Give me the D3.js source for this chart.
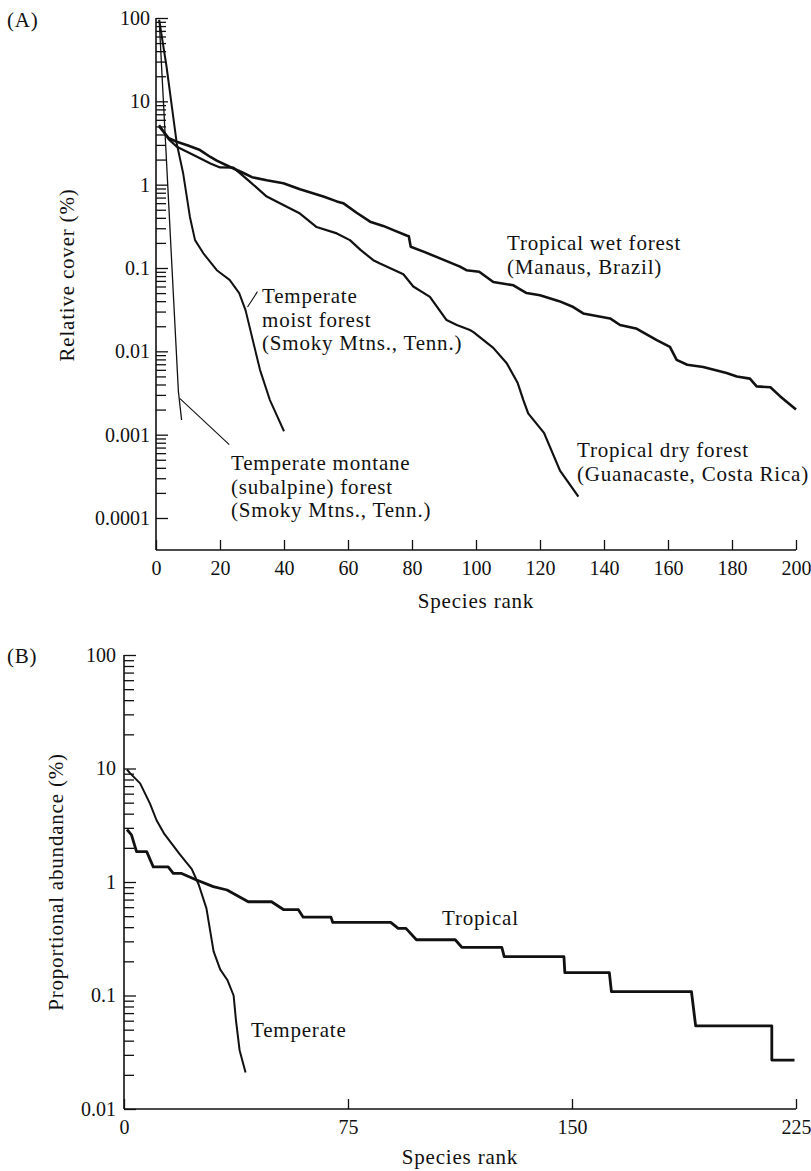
<!DOCTYPE html>
<html>
<head>
<meta charset="utf-8">
<script src="https://cdn.jsdelivr.net/npm/d3@7"></script>
<style>
  body { margin: 0; background: #fff; }
  svg text { font-family: "Liberation Serif", "Times New Roman", serif; fill: #111; }
</style>
</head>
<body>
<div id="graph"></div>
<script>
// ---- Panel A: relative cover vs species rank ----
var wetRank  = [1, 4, 6.5, 10, 13.75, 17, 19, 23, 27, 30, 34.6, 39.8, 45, 52.3, 56.5, 58.5, 62.7, 66.9, 71, 74.2, 78.3, 79, 79.6, 84, 88, 95, 97, 101, 105.4, 111.7, 115.8, 120, 126, 130.4, 133.5, 141.9, 145, 150, 156.5, 160.6, 162.7, 166, 171, 178.3, 181.5, 185.6, 187.7, 192, 195, 200];
var wetCover = [5.0, 3.6, 3.27, 2.95, 2.6, 2.15, 1.94, 1.64, 1.4, 1.23, 1.13, 1.04, 0.88, 0.72, 0.63, 0.6, 0.46, 0.36, 0.32, 0.285, 0.245, 0.24, 0.18, 0.155, 0.134, 0.104, 0.094, 0.09, 0.068, 0.062, 0.05, 0.047, 0.04, 0.034, 0.0285, 0.0248, 0.0207, 0.0188, 0.0136, 0.0113, 0.0079, 0.0069, 0.0065, 0.0055, 0.005, 0.0047, 0.0038, 0.0037, 0.0029, 0.002];

var dryRank  = [1, 4, 6.5, 10, 13.75, 17, 20, 24.2, 29.4, 34.6, 39.8, 45, 50.2, 56.5, 60.6, 64, 67.9, 70, 77.3, 80.4, 85.6, 90.8, 94, 98.1, 99.2, 105.4, 109.6, 113, 114.8, 116.3, 121.25, 126.25, 132];
var dryCover = [5.2, 3.5, 2.85, 2.45, 2.07, 1.8, 1.61, 1.6, 1.08, 0.72, 0.57, 0.45, 0.31, 0.26, 0.216, 0.164, 0.124, 0.113, 0.084, 0.06, 0.045, 0.0237, 0.0207, 0.018, 0.017, 0.011, 0.0072, 0.0042, 0.0026, 0.0018, 0.00105, 0.00037, 0.00018];

var moistRank  = [1, 3.3, 6.5, 8.5, 10.6, 12.2, 14.8, 19, 23, 26, 28, 30.5, 32.5, 35.6, 40];
var moistCover = [95, 26, 3.1, 1.36, 0.41, 0.216, 0.15, 0.094, 0.072, 0.05, 0.031, 0.0124, 0.006, 0.0026, 0.0011];

var montaneRank  = [1, 2, 3, 4, 5, 6, 7, 8];
var montaneCover = [95, 17, 3.1, 0.56, 0.1, 0.018, 0.0033, 0.0015];

var xTicksA = [0, 20, 40, 60, 80, 100, 120, 140, 160, 180, 200];
var yMajorA = [1e-4, 1e-3, 1e-2, 1e-1, 1, 10, 100];
var yLabelsA = ["0.0001", "0.001", "0.01", "0.1", "1", "10", "100"];

// ---- Panel B: proportional abundance vs species rank ----
var tropRank  = [1, 2.5, 4.2, 7.6, 9.8, 14.8, 16.5, 19.3, 24.3, 29.9, 34.5, 41.6, 49.4, 53.5, 58.4, 60, 69.3, 69.9, 89.3, 91.8, 94.4, 97.9, 110.9, 113.1, 126.5, 127.3, 147.3, 147.6, 162.5, 163.2, 190, 191.4, 216.9, 216.9, 224.5];
var tropAbund = [2.9, 2.6, 1.85, 1.85, 1.36, 1.36, 1.19, 1.19, 1.04, 0.91, 0.85, 0.67, 0.67, 0.57, 0.57, 0.49, 0.49, 0.44, 0.44, 0.39, 0.39, 0.31, 0.31, 0.266, 0.266, 0.22, 0.22, 0.159, 0.159, 0.108, 0.108, 0.054, 0.054, 0.027, 0.027];

var tempRank  = [1, 2, 5.4, 8.7, 10.9, 13.5, 18.7, 22.7, 25, 27.6, 30, 32.2, 34.6, 36.7, 37.5, 38.7, 40.7];
var tempAbund = [9.8, 9.1, 7.4, 4.9, 3.5, 2.65, 1.75, 1.3, 0.95, 0.586, 0.245, 0.17, 0.137, 0.1, 0.06, 0.033, 0.021];

var xTicksB = [0, 75, 150, 225];
var yMajorB = [0.01, 0.1, 1, 10, 100];
var yLabelsB = ["0.01", "0.1", "1", "10", "100"];

var W = 811, H = 1171;
var svg = d3.select("#graph").append("svg")
  .attr("width", W).attr("height", H);

function minorTicks(majors) {
  var out = [];
  for (var i = 0; i < majors.length - 1; i++) {
    for (var k = 2; k < 10; k++) out.push(majors[i] * k);
  }
  return out;
}

// draws a log y axis with inward ticks plus a linear x axis
function drawAxes(x, y, xTicks, yMajor, yLabels, labelPad) {
  var x0 = x.range()[0], x1 = x.range()[1];
  var yBottom = y.range()[0], yTop = y.range()[1];

  var gMinor = svg.append("g").attr("transform", "translate(" + x0 + ",0)")
    .call(d3.axisLeft(y).tickValues(minorTicks(yMajor)).tickSize(-10).tickSizeOuter(0).tickFormat(""));
  gMinor.select(".domain").remove();

  var gMajor = svg.append("g").attr("transform", "translate(" + x0 + ",0)")
    .call(d3.axisLeft(y).tickValues(yMajor).tickSize(-12).tickSizeOuter(0)
      .tickPadding(labelPad).tickFormat(function (d, i) { return yLabels[i]; }));
  gMajor.select(".domain").remove();

  var gx = svg.append("g").attr("transform", "translate(0," + yBottom + ")")
    .call(d3.axisBottom(x).tickValues(xTicks).tickSize(-10).tickSizeOuter(0).tickPadding(11));
  gx.select(".domain").remove();

  svg.selectAll(".tick line").attr("stroke", "#111").attr("stroke-width", 1.3);
  svg.selectAll(".tick text").attr("font-size", 20).attr("fill", "#111")
     .attr("font-family", "Liberation Serif, serif");

  // axis lines
  svg.append("line").attr("x1", x0).attr("x2", x0).attr("y1", yTop).attr("y2", yBottom)
    .attr("stroke", "#111").attr("stroke-width", 1.6);
  svg.append("line").attr("x1", x0).attr("x2", x1).attr("y1", yBottom).attr("y2", yBottom)
    .attr("stroke", "#111").attr("stroke-width", 1.6);
}

function drawSeries(x, y, ranks, vals, width) {
  var pts = ranks.map(function (r, i) { return [r, vals[i]]; });
  svg.append("path")
    .datum(pts)
    .attr("fill", "none")
    .attr("stroke", "#111")
    .attr("stroke-width", width)
    .attr("stroke-linejoin", "round")
    .attr("d", d3.line().x(function (d) { return x(d[0]); }).y(function (d) { return y(d[1]); }));
}

function label(x, y, lines, size) {
  var t = svg.append("text").attr("x", x).attr("y", y)
    .attr("font-size", size || 21).attr("letter-spacing", 0.8);
  lines.forEach(function (s, i) {
    t.append("tspan").attr("x", x).attr("dy", i === 0 ? 0 : 23.5).text(s);
  });
}

// ---------- Panel A ----------
var xA = d3.scaleLinear().domain([0, 200]).range([156, 796]);
var yA = d3.scaleLog().domain([4.13e-5, 100]).range([550, 18]);

drawAxes(xA, yA, xTicksA, yMajorA, yLabelsA, 6);

drawSeries(xA, yA, wetRank, wetCover, 2.6);
drawSeries(xA, yA, dryRank, dryCover, 2.2);
drawSeries(xA, yA, moistRank, moistCover, 2.0);
drawSeries(xA, yA, montaneRank, montaneCover, 1.3);

// leader lines
svg.append("line").attr("x1", xA(28.6)).attr("y1", yA(0.034)).attr("x2", xA(31.7)).attr("y2", yA(0.052))
  .attr("stroke", "#111").attr("stroke-width", 1.1);
svg.append("line").attr("x1", xA(7.5)).attr("y1", yA(0.0027)).attr("x2", xA(22.9)).attr("y2", yA(0.00076))
  .attr("stroke", "#111").attr("stroke-width", 1.1);

label(7, 27, ["(A)"]);
label(507, 250, ["Tropical wet forest", "(Manaus, Brazil)"]);
label(262, 303, ["Temperate", "moist forest", "(Smoky Mtns., Tenn.)"]);
label(577, 457, ["Tropical dry forest", "(Guanacaste, Costa Rica)"]);
label(231, 470, ["Temperate montane", "(subalpine) forest", "(Smoky Mtns., Tenn.)"]);

svg.append("text").attr("x", 476).attr("y", 608).attr("text-anchor", "middle")
  .attr("font-size", 21).attr("letter-spacing", 0.8).text("Species rank");
svg.append("text").attr("transform", "translate(74,275) rotate(-90)").attr("text-anchor", "middle")
  .attr("font-size", 21).attr("letter-spacing", 0.8).text("Relative cover (%)");

// ---------- Panel B ----------
var xB = d3.scaleLinear().domain([0, 225]).range([124, 796]);
var yB = d3.scaleLog().domain([0.01, 100]).range([1109, 655]);

drawAxes(xB, yB, xTicksB, yMajorB, yLabelsB, 8);

drawSeries(xB, yB, tropRank, tropAbund, 2.8);
drawSeries(xB, yB, tempRank, tempAbund, 2.0);

label(7, 663, ["(B)"]);
label(442, 925, ["Tropical"]);
label(251, 1037, ["Temperate"]);

svg.append("text").attr("x", 460).attr("y", 1164).attr("text-anchor", "middle")
  .attr("font-size", 21).attr("letter-spacing", 0.8).text("Species rank");
svg.append("text").attr("transform", "translate(63,882) rotate(-90)").attr("text-anchor", "middle")
  .attr("font-size", 21).attr("letter-spacing", 0.8).text("Proportional abundance (%)");
</script>
</body>
</html>
